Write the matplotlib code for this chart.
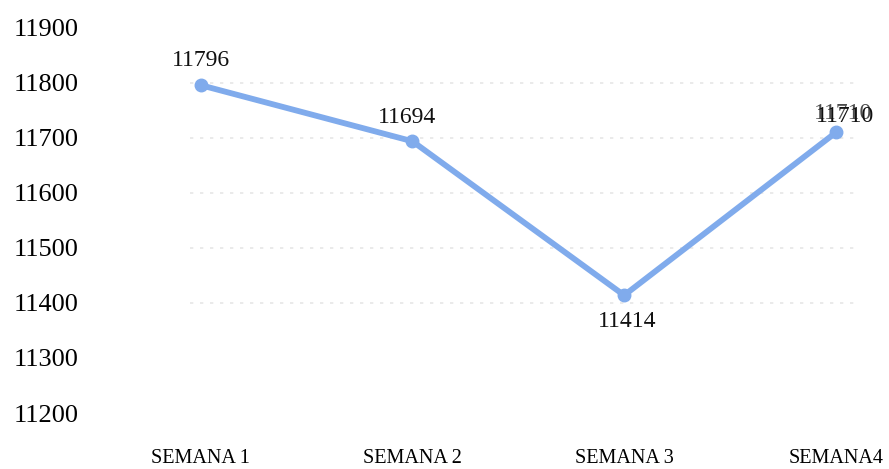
import matplotlib
matplotlib.use("Agg")
import matplotlib.pyplot as plt

# data
semanas = ["SEMANA 1", "SEMANA 2", "SEMANA 3", "SEMANA4"]
valores = [11796, 11694, 11414, 11710]
yticks = [11200, 11300, 11400, 11500, 11600, 11700, 11800, 11900]
grid_vals = [11400, 11500, 11600, 11700, 11800]

plt.rcParams['font.family'] = ['Liberation Serif', 'DejaVu Serif']

fig = plt.figure(figsize=(8.89, 4.69), dpi=100)
ax = fig.add_axes([0.190, 0.1194, 0.786, 0.821])

x = list(range(len(semanas)))

# faint dotted lines in the background
for g in grid_vals:
    ax.axhline(g, xmin=0.03, xmax=0.98, color="#e6e6e6", lw=1.2,
               ls=(0, (2, 4)), zorder=0)

ax.plot(x, valores, color="#80abec", lw=4.2, marker="o", ms=9,
        solid_capstyle="round", zorder=3)

# data labels
offsets = [(0, 18), (-4, 17), (2, -19), (6.5, 11.5)]
for xi, v, (dx, dy) in zip(x, valores, offsets):
    ax.annotate(str(v), (xi, v), xytext=(dx, dy), textcoords="offset points",
                ha="center", va="center", fontsize=17, color="#111111")
# doubled label at the last point, as in the reference
ax.annotate(str(valores[-1]), (x[-1], valores[-1]), xytext=(5.5, 13.5),
            textcoords="offset points", ha="center", va="center",
            fontsize=17, color="#111111", alpha=0.75)

ax.set_xlim(-0.15, 3.15)
ax.set_ylim(11200, 11900)
ax.set_xticks(x)
ax.set_xticklabels(semanas, fontsize=14.5)
ax.set_yticks(yticks)
ax.set_yticklabels([str(t) for t in yticks], fontsize=19)
ax.tick_params(axis="x", length=0, pad=26)
ax.tick_params(axis="y", length=0, pad=65)

for s in ax.spines.values():
    s.set_visible(False)

fig.savefig("out.png", dpi=100)
